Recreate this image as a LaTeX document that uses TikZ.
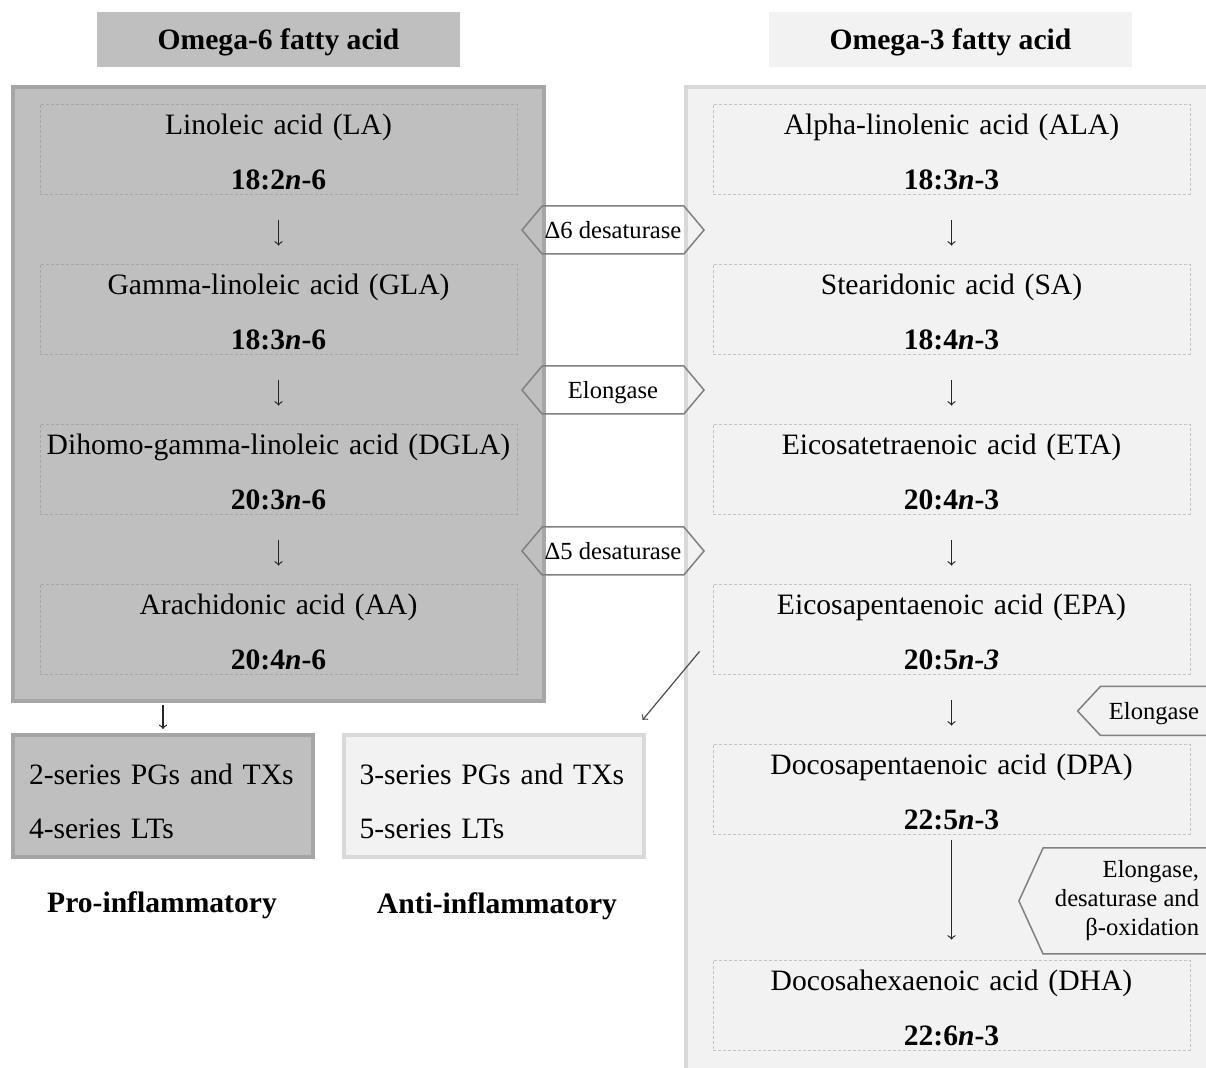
\documentclass[tikz,border=0pt]{standalone}
\usepackage{fontspec}
\setmainfont{Liberation Serif}
\usepackage{tikz}
\usetikzlibrary{arrows,positioning,calc,shapes.symbols}

\definecolor{sixfill}{HTML}{BFBFBF}
\definecolor{sixline}{HTML}{A6A6A6}
\definecolor{threefill}{HTML}{F2F2F2}
\definecolor{threeline}{HTML}{D9D9D9}
\definecolor{enzline}{HTML}{808080}

\tikzset{
  head/.style={rectangle, minimum width=181.5pt, minimum height=27.5pt, inner sep=0pt,
    text height=11.5pt, text depth=1pt, font=\fontsize{14.8}{17}\selectfont\bfseries},
  panel/.style={rectangle, line width=2pt},
  acidbox/.style={rectangle, minimum width=238.5pt, minimum height=45pt, inner sep=0pt,
    text width=236pt, align=center, line width=0.4pt, dash pattern=on 1.5pt off 1pt,
    execute at begin node=\rule{0pt}{13.3pt},
    font=\fontsize{14.8}{27.5}\selectfont},
  sixacid/.style={acidbox, draw=sixline},
  threeacid/.style={acidbox, draw=threeline!90!black},
  prodbox/.style={rectangle, minimum width=150pt, minimum height=61pt, line width=2pt,
    text width=134pt, align=left, execute at begin node=\rule{0pt}{16pt},
    font=\fontsize{14.8}{27}\selectfont},
  tag/.style={font=\fontsize{14.8}{17}\selectfont\bfseries},
  enzyme/.style={signal, draw=enzline, line width=0.75pt, inner sep=1pt,
    font=\fontsize{12.3}{14.5}\selectfont},
  hexa/.style={enzyme, signal to=west and east, signal pointer angle=100,
    minimum width=91pt, minimum height=24pt, text height=8.5pt, text depth=0pt},
  flow/.style={->, line width=0.6pt, black!85}
}

\begin{document}
\begin{tikzpicture}[x=0.5pt, y=-0.5pt, node distance=80pt, on grid]
  \useasboundingbox (0,0) rectangle (1206,1068);

  \node[head, fill=sixfill] (headsix) at (278.5,39.5) {Omega-6 fatty acid};
  \node[head, fill=threefill] (headthree) at (950.5,39.5) {Omega-3 fatty acid};

  \node[panel, fill=sixfill, draw=sixline, minimum width=265.5pt, minimum height=307pt] (omsix) at (278.5,394) {};
  \node[panel, fill=threefill, draw=threeline, minimum width=280pt, minimum height=506.5pt] (omthree) at (966,593.5) {};

  \node[sixacid] (la) at (278.5,149) {Linoleic acid (LA)\\\textbf{18:2\textit{n}-6}};
  \node[sixacid] (gla) [below=of la] {Gamma-linoleic acid (GLA)\\\textbf{18:3\textit{n}-6}};
  \node[sixacid] (dgla) [below=of gla] {Dihomo-gamma-linoleic acid (DGLA)\\\textbf{20:3\textit{n}-6}};
  \node[sixacid] (aa) [below=of dgla] {Arachidonic acid (AA)\\\textbf{20:4\textit{n}-6}};

  \node[threeacid] (ala) at (951.5,149) {Alpha-linolenic acid (ALA)\\\textbf{18:3\textit{n}-3}};
  \node[threeacid] (sa) [below=of ala] {Stearidonic acid (SA)\\\textbf{18:4\textit{n}-3}};
  \node[threeacid] (eta) [below=of sa] {Eicosatetraenoic acid (ETA)\\\textbf{20:4\textit{n}-3}};
  \node[threeacid] (epa) [below=of eta] {Eicosapentaenoic acid (EPA)\\\textbf{20:5\textit{n-3}}};
  \node[threeacid] (dpa) [below=of epa] {Docosapentaenoic acid (DPA)\\\textbf{22:5\textit{n}-3}};
  \node[threeacid] (dha) [below=of dpa, yshift=-28pt] {Docosahexaenoic acid (DHA)\\\textbf{22:6\textit{n}-3}};

  \node[prodbox, fill=sixfill, draw=sixline] (prosix) at (163,796) {2-series PGs and TXs\\4-series LTs};
  \node[prodbox, fill=threefill, draw=threeline] (prothree) at (493.5,796) {3-series PGs and TXs\\5-series LTs};
  \node[tag] (pro) at (162,905) {Pro-inflammatory};
  \node[tag] (anti) at (497,906) {Anti-inflammatory};

  \node[hexa] (dsix) at (613,230) {Δ6 desaturase};
  \node[hexa] (elo) at (613,390) {Elongase};
  \node[hexa] (dfive) at (613,551) {Δ5 desaturase};
  \node[enzyme, signal to=west, signal pointer angle=94, minimum width=65pt, minimum height=24.5pt,
    text height=8.5pt, text depth=0pt] (elotwo) at (1154,711) {Elongase};
  \node[enzyme, signal to=west, signal pointer angle=131, minimum width=96pt, minimum height=53pt, align=right] (elodes) at (1127,901) {Elongase,\\desaturase and\\β-oxidation};

  \path[flow, shorten <=13pt, shorten >=9pt]
    (la) edge (gla)
    (gla) edge (dgla)
    (dgla) edge (aa)
    (ala) edge (sa)
    (sa) edge (eta)
    (eta) edge (epa)
    (epa) edge (dpa)
    (dpa) edge [shorten <=3pt, shorten >=10pt] (dha);
  \draw[flow, shorten <=1pt, shorten >=2pt] (prosix.north |- omsix.south) -- (prosix.north);
  \draw[flow, black!70] ($(epa.south west)+(-13,-23)$) -- ($(prothree.north east)+(-3,-13)$);
\end{tikzpicture}
\end{document}
